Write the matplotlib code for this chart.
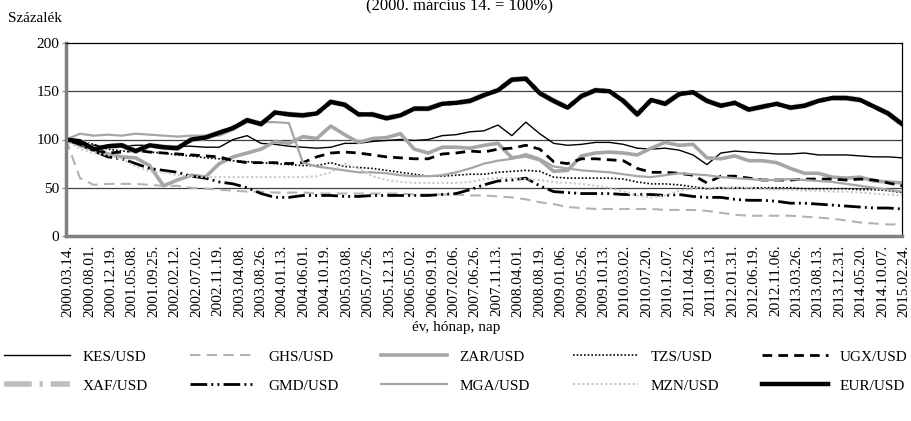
import matplotlib
matplotlib.use('Agg')
import matplotlib.pyplot as plt
import matplotlib.transforms as mtransforms
import pandas as pd

plt.rcParams['font.family'] = ['Liberation Serif', 'DejaVu Serif']
plt.rcParams['font.size'] = 11

# x axis labels (every 140 days)
tick_labels = ['2000.03.14.', '2000.08.01.', '2000.12.19.', '2001.05.08.', '2001.09.25.',
               '2002.02.12.', '2002.07.02.', '2002.11.19.', '2003.04.08.', '2003.08.26.',
               '2004.01.13.', '2004.06.01.', '2004.10.19.', '2005.03.08.', '2005.07.26.',
               '2005.12.13.', '2006.05.02.', '2006.09.19.', '2007.02.06.', '2007.06.26.',
               '2007.11.13.', '2008.04.01.', '2008.08.19.', '2009.01.06.', '2009.05.26.',
               '2009.10.13.', '2010.03.02.', '2010.07.20.', '2010.12.07.', '2011.04.26.',
               '2011.09.13.', '2012.01.31.', '2012.06.19.', '2012.11.06.', '2013.03.26.',
               '2013.08.13.', '2013.12.31.', '2014.05.20.', '2014.10.07.', '2015.02.24.']
tick_dates = pd.to_datetime(tick_labels, format='%Y.%m.%d.')

# quarterly readings, 2000.03.14 -> 2015.02.24
dates = pd.date_range('2000-03-14', '2015-02-24', periods=61)

kes = [100, 95, 94, 93,  93, 94, 94, 93,  93, 93, 92, 92,  100, 104, 96, 95,
       93, 92, 91, 92,  96, 96, 98, 99,  100, 99, 100, 104,  105, 108, 109, 115,
       104, 118, 106, 96,  94, 95, 97, 97,  95, 91, 90, 91,  89, 84, 74, 86,
       88, 87, 86, 85,  85, 86, 84, 84,  84, 83, 82, 82,  81]
ghs = [100, 60, 53, 54,  54, 54, 53, 52,  52, 50, 49, 48,  47, 46, 46, 45,
       45, 45, 44, 44,  44, 44, 44, 44,  44, 43, 43, 43,  43, 42, 42, 41,
       40, 38, 35, 33,  30, 29, 28, 28,  28, 28, 28, 27,  27, 27, 26, 24,
       22, 21, 21, 21,  21, 20, 19, 18,  16, 14, 13, 12,  12]
zar = [100, 94, 89, 85,  82, 81, 73, 52,  58, 63, 61, 75,  82, 86, 90, 98,
       96, 103, 101, 114,  105, 97, 101, 102,  106, 90, 86, 92,  92, 91, 94, 96,
       81, 83, 79, 67,  68, 83, 86, 87,  86, 84, 91, 97,  94, 95, 81, 80,
       83, 78, 78, 76,  70, 65, 65, 61,  60, 61, 57, 56,  55]
tzs = [100, 98, 95, 90,  88, 88, 87, 86,  84, 83, 81, 80,  78, 77, 76, 75,
       74, 73, 73, 76,  72, 71, 70, 68,  66, 64, 62, 62,  63, 64, 64, 66,
       67, 68, 67, 61,  60, 60, 60, 60,  59, 56, 54, 54,  53, 51, 49, 50,
       50, 50, 50, 50,  50, 49, 49, 49,  49, 48, 48, 47,  45]
ugx = [100, 95, 90, 86,  87, 89, 87, 86,  85, 84, 83, 82,  78, 76, 76, 76,
       75, 76, 82, 86,  87, 86, 84, 82,  81, 80, 80, 85,  86, 88, 87, 90,
       91, 94, 90, 77,  75, 80, 80, 79,  78, 70, 66, 66,  65, 63, 55, 62,
       62, 60, 58, 58,  58, 59, 59, 59,  58, 59, 58, 55,  52]
eur = [100, 98, 90, 93,  94, 88, 94, 92,  91, 100, 102, 107,  112, 120, 116, 128,
       126, 125, 127, 139,  136, 126, 126, 122,  125, 132, 132, 137,  138, 140, 146, 151,
       162, 163, 148, 140,  133, 145, 151, 150,  140, 126, 141, 137,  147, 149, 140, 135,
       138, 131, 134, 137,  133, 135, 140, 143,  143, 141, 134, 127,  116]
xaf = [100, 98, 90, 93,  94, 88, 94, 92,  91, 100, 102, 107,  112, 120, 116, 128,
       126, 125, 127, 139,  136, 126, 126, 122,  125, 132, 132, 137,  138, 140, 146, 151,
       162, 163, 148, 140,  133, 145, 151, 150,  140, 126, 141, 137,  147, 149, 140, 135,
       138, 131, 134, 137,  133, 135, 140, 143,  143, 141, 134, 127,  116]
gmd = [100, 95, 88, 82,  80, 75, 70, 68,  66, 62, 60, 56,  54, 50, 44, 40,
       40, 42, 42, 42,  41, 41, 42, 42,  42, 42, 42, 43,  44, 48, 53, 57,
       58, 60, 52, 46,  45, 44, 44, 44,  43, 43, 43, 42,  43, 41, 40, 40,
       38, 37, 37, 36,  34, 34, 33, 32,  31, 30, 29, 29,  28]
mga = [100, 106, 104, 105,  104, 106, 105, 104,  103, 104, 104, 104,  110, 118, 118, 118,
       117, 76, 72, 70,  68, 66, 66, 65,  63, 62, 62, 63,  66, 70, 75, 78,
       80, 85, 80, 72,  70, 68, 67, 66,  64, 62, 61, 63,  65, 64, 63, 61,
       60, 59, 58, 58,  59, 58, 57, 56,  54, 52, 50, 48,  46]
mzn = [100, 90, 86, 84,  80, 72, 67, 66,  63, 62, 61, 61,  61, 61, 61, 61,
       61, 61, 62, 66,  75, 70, 62, 58,  56, 55, 55, 55,  55, 56, 59, 60,
       60, 59, 58, 56,  55, 54, 52, 50,  46, 42, 40, 42,  47, 49, 50, 50,
       50, 50, 49, 48,  48, 47, 47, 46,  46, 45, 44, 43,  42]

names = ['KES/USD', 'GHS/USD', 'ZAR/USD', 'TZS/USD', 'UGX/USD',
         'XAF/USD', 'GMD/USD', 'MGA/USD', 'MZN/USD', 'EUR/USD']
series = [kes, ghs, zar, tzs, ugx, xaf, gmd, mga, mzn, eur]

styles = [
    dict(color='black', lw=1.0),
    dict(color='#b3b3b3', lw=1.5, dashes=(5, 3)),
    dict(color='#a6a6a6', lw=2.6),
    dict(color='black', lw=1.2, dashes=(1, 1.2)),
    dict(color='black', lw=2.0, dashes=(3.5, 2.2)),
    dict(color='#bfbfbf', lw=4.0, dashes=(5, 1.4, 0.6, 1.4)),
    dict(color='black', lw=2.0, dashes=(6, 1.5, 0.7, 1.5, 0.7, 1.5)),
    dict(color='#a6a6a6', lw=1.6),
    dict(color='#c8c8c8', lw=1.5, dashes=(1, 1.2)),
    dict(color='black', lw=3.2),
]

fig = plt.figure(figsize=(9.12, 4.21), dpi=100)
ax = fig.add_axes([66 / 912, 1 - 236 / 421, 836 / 912, 193 / 421])

handles = []
for name, vals, st in zip(names, series, styles):
    h, = ax.plot(dates, vals, label=name, solid_joinstyle='round', **st)
    handles.append(h)

ax.set_ylim(0, 200)
ax.set_yticks([0, 50, 100, 150, 200])
ax.set_xlim(dates[0], dates[-1])
ax.set_xticks(tick_dates)
ax.set_xticklabels(tick_labels, rotation=90)
ax.tick_params(axis='x', length=0, pad=6)
ax.tick_params(axis='y', length=3, color='#808080', pad=2)

# nudge the date labels a little to the right, like the original
shift = mtransforms.ScaledTranslation(2 / 100, 0, fig.dpi_scale_trans)
for lab in ax.get_xticklabels():
    lab.set_transform(lab.get_transform() + shift)

for y in [50, 100, 150]:
    ax.axhline(y, color='#404040', lw=0.9, zorder=0)

ax.spines['left'].set_color('#808080')
ax.spines['left'].set_linewidth(2.5)
ax.spines['bottom'].set_color('#808080')
ax.spines['bottom'].set_linewidth(2.5)
ax.spines['top'].set_linewidth(0.9)
ax.spines['right'].set_linewidth(0.9)

fig.text(460 / 912, 1 - 9 / 421, '(2000. március 14. = 100%)', ha='center', va='baseline', fontsize=12)
fig.text(8 / 912, 1 - 18 / 421, 'Százalék', ha='left', va='center')
fig.text(456 / 912, 1 - 328 / 421, 'év, hónap, nap', ha='center', va='center')

# legend: row-wise order as in the original
order = [0, 5, 1, 6, 2, 7, 3, 8, 4, 9]
fig.legend([handles[i] for i in order], [names[i] for i in order], ncol=5,
           loc='upper center', bbox_to_anchor=(0.5, 1 - 350 / 421), frameon=False,
           handlelength=4.3, columnspacing=2.8, handletextpad=0.8, labelspacing=1.0,
           borderpad=0, borderaxespad=0)

fig.savefig('out.png', dpi=100)
